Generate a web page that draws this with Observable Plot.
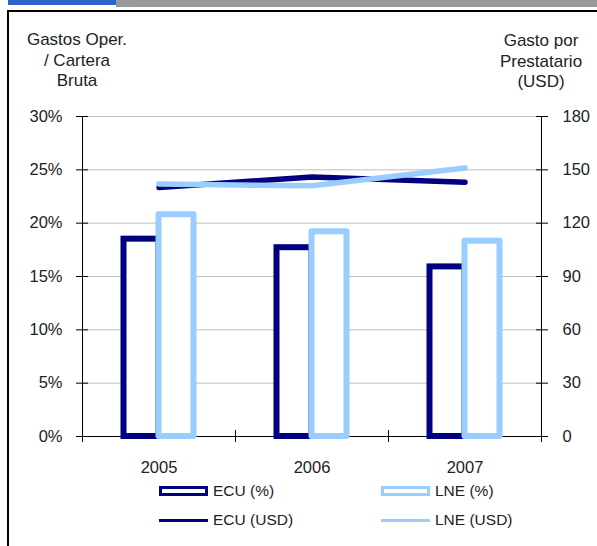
<!DOCTYPE html>
<html>
<head>
<meta charset="utf-8">
<script src="https://cdn.jsdelivr.net/npm/d3@7"></script>
<script src="https://cdn.jsdelivr.net/npm/@observablehq/plot@0.6"></script>
<style>
  html, body { margin: 0; padding: 0; background: #fff; }
  body { font-family: "Liberation Sans", Arial, sans-serif; color: #222; }
  #page { position: relative; width: 597px; height: 546px; overflow: hidden; background: #fff; }
  .strip { position: absolute; top: 0; }
  #frameBox { position: absolute; left: 7px; top: 10px; width: 600px; height: 600px;
              border-top: 2px solid #000; border-left: 2px solid #000; box-sizing: border-box; }
  #chart { position: absolute; left: 0; top: 0; }
  .title { position: absolute; font-size: 17px; line-height: 20.5px; text-align: center; white-space: nowrap; }
  .legend-item { position: absolute; height: 20px; display: flex; align-items: center; font-size: 15.5px; white-space: nowrap; }
  .sw-box { box-sizing: border-box; width: 49px; height: 10px; border: 3px solid; background: #fff; margin-right: 5px; }
  .sw-line { width: 49px; height: 3px; margin-right: 5px; }
</style>
</head>
<body>
<div id="page">
  <div class="strip" style="left:8px;width:108px;height:5px;background:#2f63c9"></div>
  <div class="strip" style="left:116px;width:481px;height:7px;background:#999"></div>
  <div id="frameBox"></div>
  <div id="chart"></div>
  <div class="title" style="left:17px;width:120px;top:30px">Gastos Oper.<br>/ Cartera<br>Bruta</div>
  <div class="title" style="left:481px;width:120px;top:31px">Gasto por<br>Prestatario<br>(USD)</div>
  <div id="legend"></div>
</div>
<script>
// Years and series
const years = ["2005", "2006", "2007"];
const ecuPct = [18.5, 17.7, 15.9];   // operating costs / gross portfolio, ECU (%)
const lnePct = [20.8, 19.2, 18.3];   // operating costs / gross portfolio, LNE (%)
const ecuUsd = [140, 146, 143];      // cost per borrower, ECU (USD)
const lneUsd = [142, 141, 151];      // cost per borrower, LNE (USD)

// Axis ticks: left in percent, right in USD (30% ↔ 180 USD)
const pctTicks = [0, 5, 10, 15, 20, 25, 30];
const usdTicks = [0, 30, 60, 90, 120, 150, 180];
const usdPerPct = 6;

const navy = "#000080";
const sky = "#99ccff";

const rows = years.map((year, i) => ({
  year, ecuPct: ecuPct[i], lnePct: lnePct[i], ecuUsd: ecuUsd[i], lneUsd: lneUsd[i]
}));

const W = 597, H = 546;
const mLeft = 82, mRight = 56, mTop = 116, mBottom = 110;
const band = (W - mLeft - mRight) / years.length;

const chart = Plot.plot({
  width: W,
  height: H,
  marginLeft: mLeft,
  marginRight: mRight,
  marginTop: mTop,
  marginBottom: mBottom,
  style: { fontFamily: "'Liberation Sans', Arial, sans-serif", fontSize: "16.5px", color: "#222", background: "transparent", overflow: "visible" },
  x: { type: "band", domain: years, padding: 0, label: null },
  y: { domain: [0, 30], label: null },
  marks: [
    Plot.gridY(pctTicks.filter(t => t > 0), { stroke: "#bdbdbd", strokeOpacity: 1 }),
    Plot.ruleY([0], { stroke: "#000" }),
    Plot.frame({ anchor: "left", stroke: "#000" }),
    Plot.frame({ anchor: "right", stroke: "#000" }),
    // left percent axis
    Plot.axisY({ anchor: "left", ticks: pctTicks, tickFormat: d => d + "%", tickSize: 12, dx: 6, tickPadding: 14, stroke: "#000", fill: "#222", label: null }),
    // right USD axis, same positions
    Plot.axisY({ anchor: "right", ticks: pctTicks, tickFormat: (d, i) => String(usdTicks[i]), tickSize: 12, dx: -6, tickPadding: 15, stroke: "#000", fill: "#222", label: null }),
    // year labels
    Plot.axisX({ tickSize: 0, tickPadding: 25, fill: "#222", label: null }),
    // category boundary ticks
    Plot.axisX({ tickSize: 12, dx: -band / 2, dy: -6, stroke: "#000", fill: "none", label: null }),
    Plot.axisX({ ticks: [years[years.length - 1]], tickSize: 12, dx: band / 2, dy: -6, stroke: "#000", fill: "none", label: null }),
    // percentage bars
    Plot.barY(rows, { x: "year", y: "ecuPct", fill: "#fff", stroke: navy, strokeWidth: 6, insetLeft: 41.5, insetRight: band / 2 }),
    Plot.barY(rows, { x: "year", y: "lnePct", fill: "#fff", stroke: sky, strokeWidth: 6, strokeLinejoin: "round", insetLeft: band / 2, insetRight: 41.5 }),
    // cost-per-borrower lines on the USD axis
    Plot.line(rows, { x: "year", y: d => d.ecuUsd / usdPerPct, stroke: navy, strokeWidth: 5.5, strokeLinecap: "round" }),
    Plot.line(rows, { x: "year", y: d => d.lneUsd / usdPerPct, stroke: sky, strokeWidth: 5.5, strokeLinecap: "round" })
  ]
});
document.getElementById("chart").appendChild(chart);

// Legend
const legendItems = [
  { label: "ECU (%)", kind: "box", color: navy, left: 159, top: 481 },
  { label: "LNE (%)", kind: "box", color: sky, left: 381, top: 481 },
  { label: "ECU (USD)", kind: "line", color: navy, left: 159, top: 510 },
  { label: "LNE (USD)", kind: "line", color: sky, left: 381, top: 510 }
];
const legend = document.getElementById("legend");
for (const item of legendItems) {
  const el = document.createElement("div");
  el.className = "legend-item";
  el.style.left = item.left + "px";
  el.style.top = item.top + "px";
  const sw = document.createElement("div");
  if (item.kind === "box") {
    sw.className = "sw-box";
    sw.style.borderColor = item.color;
  } else {
    sw.className = "sw-line";
    sw.style.background = item.color;
  }
  el.appendChild(sw);
  el.appendChild(document.createTextNode(item.label));
  legend.appendChild(el);
}
</script>
</body>
</html>
